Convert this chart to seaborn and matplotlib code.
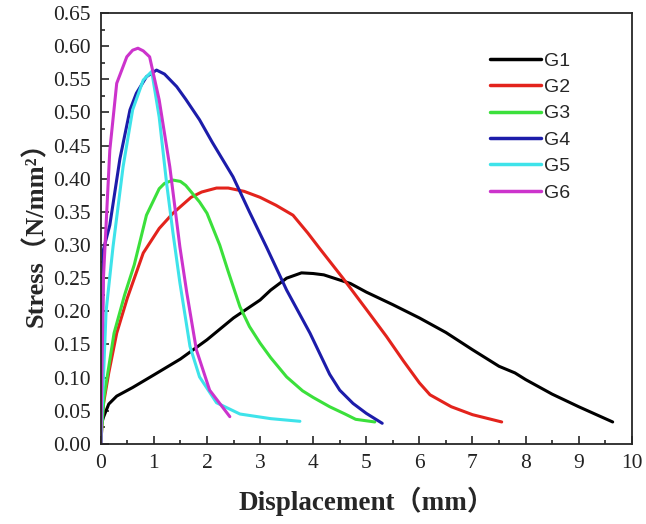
import numpy as np
import pandas as pd
import seaborn as sns
import matplotlib.pyplot as plt
from matplotlib.ticker import MultipleLocator

g1_x = [0.0, 0.05, 0.15, 0.3, 0.6, 1.0, 1.5, 2.0, 2.5, 3.0, 3.2, 3.5, 3.78, 4.0, 4.2, 4.7, 5.0, 5.5, 6.0, 6.5, 7.0, 7.5, 7.8, 8.0, 8.5, 9.0, 9.64]
g1_y = [0.026, 0.04, 0.06, 0.072, 0.085, 0.104, 0.128, 0.157, 0.19, 0.217, 0.232, 0.25, 0.258, 0.257, 0.255, 0.242, 0.229, 0.21, 0.19, 0.168, 0.142, 0.117, 0.107, 0.097, 0.075, 0.056, 0.033]

g2_x = [0.0, 0.05, 0.15, 0.3, 0.5, 0.8, 1.1, 1.36, 1.7, 1.9, 2.18, 2.4, 2.7, 3.0, 3.3, 3.62, 3.9, 4.12, 4.56, 5.0, 5.38, 5.7, 6.0, 6.2, 6.6, 7.0, 7.55]
g2_y = [0.0, 0.06, 0.107, 0.167, 0.22, 0.288, 0.325, 0.348, 0.372, 0.38, 0.386, 0.386, 0.381, 0.372, 0.36, 0.345, 0.318, 0.295, 0.25, 0.203, 0.162, 0.125, 0.092, 0.074, 0.056, 0.044, 0.033]

g3_x = [0.0, 0.06, 0.25, 0.45, 0.63, 0.86, 1.1, 1.2, 1.36, 1.5, 1.6, 1.86, 2.0, 2.24, 2.4, 2.62, 2.8, 3.0, 3.2, 3.5, 3.8, 4.0, 4.31, 4.6, 4.8, 5.16]
g3_y = [0.0, 0.07, 0.167, 0.225, 0.27, 0.345, 0.385, 0.393, 0.398, 0.396, 0.39, 0.365, 0.348, 0.3, 0.26, 0.207, 0.177, 0.152, 0.13, 0.101, 0.08, 0.07, 0.056, 0.045, 0.037, 0.033]

g4_x = [0.0, 0.05, 0.17, 0.36, 0.55, 0.67, 0.86, 1.05, 1.2, 1.43, 1.6, 1.86, 2.1, 2.49, 2.8, 3.12, 3.5, 3.94, 4.31, 4.5, 4.75, 5.0, 5.3]
g4_y = [0.0, 0.293, 0.33, 0.43, 0.504, 0.529, 0.554, 0.564, 0.558, 0.539, 0.52, 0.489, 0.455, 0.403, 0.35, 0.297, 0.232, 0.167, 0.105, 0.081, 0.061, 0.046, 0.031]

g5_x = [0.0, 0.1, 0.23, 0.42, 0.6, 0.8, 0.96, 1.1, 1.24, 1.36, 1.49, 1.68, 1.86, 2.18, 2.62, 3.2, 3.75]
g5_y = [0.0, 0.2, 0.297, 0.418, 0.504, 0.549, 0.562, 0.493, 0.393, 0.318, 0.243, 0.147, 0.101, 0.062, 0.045, 0.038, 0.034]

g6_x = [0.0, 0.05, 0.17, 0.3, 0.49, 0.6, 0.7, 0.8, 0.92, 1.1, 1.3, 1.49, 1.62, 1.8, 2.05, 2.43]
g6_y = [0.0, 0.25, 0.443, 0.544, 0.584, 0.594, 0.597, 0.593, 0.584, 0.519, 0.418, 0.297, 0.228, 0.142, 0.081, 0.041]

names = ["G1", "G2", "G3", "G4", "G5", "G6"]
xs = [g1_x, g2_x, g3_x, g4_x, g5_x, g6_x]
ys = [g1_y, g2_y, g3_y, g4_y, g5_y, g6_y]
colores = ["#000000", "#e3231c", "#3be03b", "#1c1caa", "#3ee3ea", "#cc33cc"]

frames = []
for n, x, y in zip(names, xs, ys):
    frames.append(pd.DataFrame({"x": x, "y": y, "grupo": n}))
df = pd.concat(frames, ignore_index=True)

sns.set_style("ticks")
plt.rcParams["font.family"] = ["Liberation Serif", "Noto Sans CJK SC"]

fig = plt.figure(figsize=(6.46, 5.24), dpi=100)
ax = fig.add_axes([0.156, 0.153, 0.822, 0.822])

sns.lineplot(data=df, x="x", y="y", hue="grupo", palette=colores, sort=False,
             estimator=None, linewidth=2.2, ax=ax)

ax.set_xlim(0, 10)
ax.set_ylim(0, 0.65)
ax.xaxis.set_major_locator(MultipleLocator(1))
ax.xaxis.set_minor_locator(MultipleLocator(0.5))
ax.yaxis.set_major_locator(MultipleLocator(0.05))
ax.yaxis.set_minor_locator(MultipleLocator(0.025))
ax.yaxis.set_major_formatter(plt.FormatStrFormatter("%.2f"))
ax.tick_params(which="major", direction="in", length=6, width=1.2, labelsize=15.5,
               labelcolor="#222222", pad=7)
ax.tick_params(which="minor", direction="in", length=3, width=1.2)
for s in ax.spines.values():
    s.set_linewidth(1.3)

ax.set_xlabel("Displacement（mm）", fontsize=19.5, fontweight="bold", labelpad=10)
ax.set_ylabel("Stress（N/mm²）", fontsize=19, fontweight="bold", labelpad=4)

leg = ax.legend(loc="upper left", bbox_to_anchor=(0.70, 0.95), frameon=False,
                prop={"family": "Liberation Sans", "size": 14},
                handlelength=2.6, handletextpad=0.2, labelspacing=0.45)
for l in leg.get_lines():
    l.set_linewidth(2.5)

plt.savefig("out.png", dpi=100)
